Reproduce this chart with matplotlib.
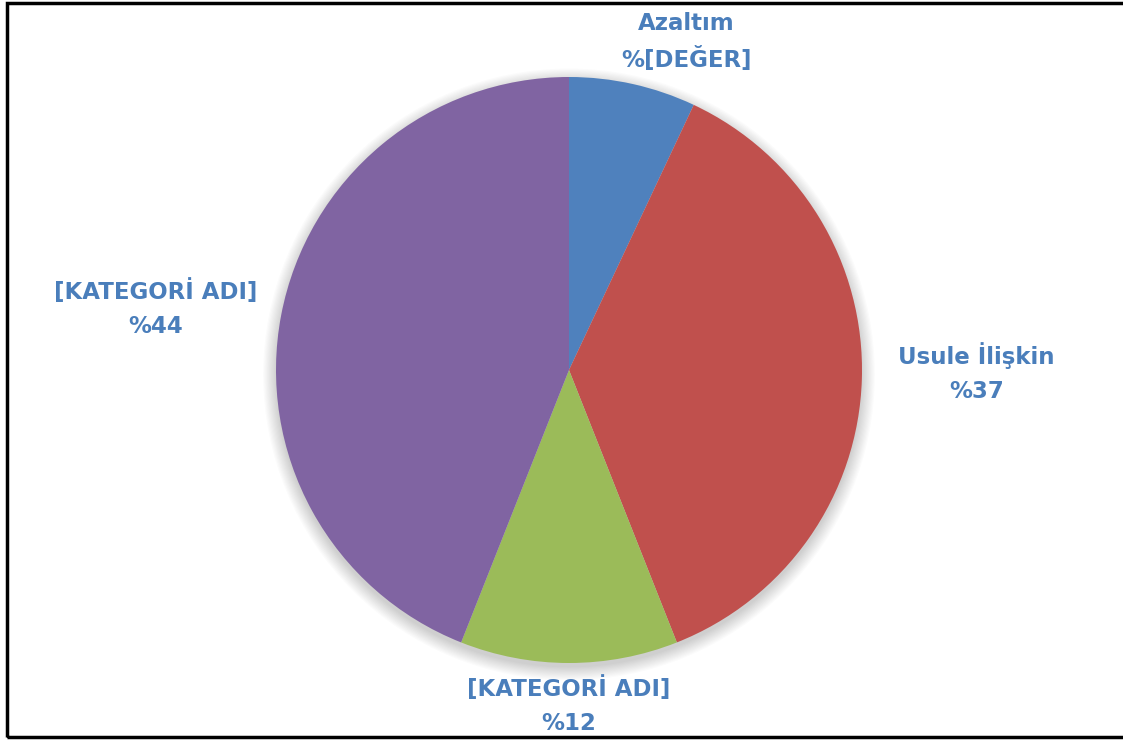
import matplotlib.pyplot as plt
from matplotlib.patches import Circle, Rectangle

# Dilim verileri (saat yönünde, tepeden başlayarak)
kategoriler = ['Azaltım', 'Usule İlişkin', '[KATEGORİ ADI]', '[KATEGORİ ADI]']
yuzde_etiket = ['%[DEĞER]', '%37', '%12', '%44']
degerler = [7, 37, 12, 44]
renkler = ['#4F81BD', '#C0504D', '#9BBB59', '#8064A2']

# Etiket konumları (pasta yarıçapı = 1 birim)
etiket_konum = [(0.40, 1.12), (1.39, -0.01), (0.0, -1.145), (-1.41, 0.21)]

fig = plt.figure(figsize=(11.23, 7.40), dpi=100)
ax = fig.add_axes([0, 0, 1, 1])

# Hafif gölge
for i in range(12):
    ax.add_patch(Circle((0.0, -0.015), 1.0 + i * 0.004, color='black',
                        alpha=0.014, lw=0, zorder=0))

ax.pie(degerler, colors=renkler, startangle=90, counterclock=False,
       wedgeprops=dict(linewidth=0))

for kat, yz, (x, y) in zip(kategoriler, yuzde_etiket, etiket_konum):
    ax.text(x, y, kat + '\n' + yz, ha='center', va='center', color='#4A7EBB',
            fontsize=16.5, fontweight='bold', family='DejaVu Sans', linespacing=1.6)

# Piksel ölçeği: merkez (569, 370), yarıçap 293 px
r = 293.0
ax.set_xlim(-569 / r, (1123 - 569) / r)
ax.set_ylim(-(740 - 370) / r, 370 / r)
ax.set_aspect('auto')
ax.axis('off')

# Çerçeve
fig.patches.append(Rectangle((7 / 1123, 3 / 740), 1.2, 734 / 740, transform=fig.transFigure,
                             fill=False, edgecolor='black', linewidth=2.5))

fig.savefig('out.png', dpi=100, facecolor='white')
